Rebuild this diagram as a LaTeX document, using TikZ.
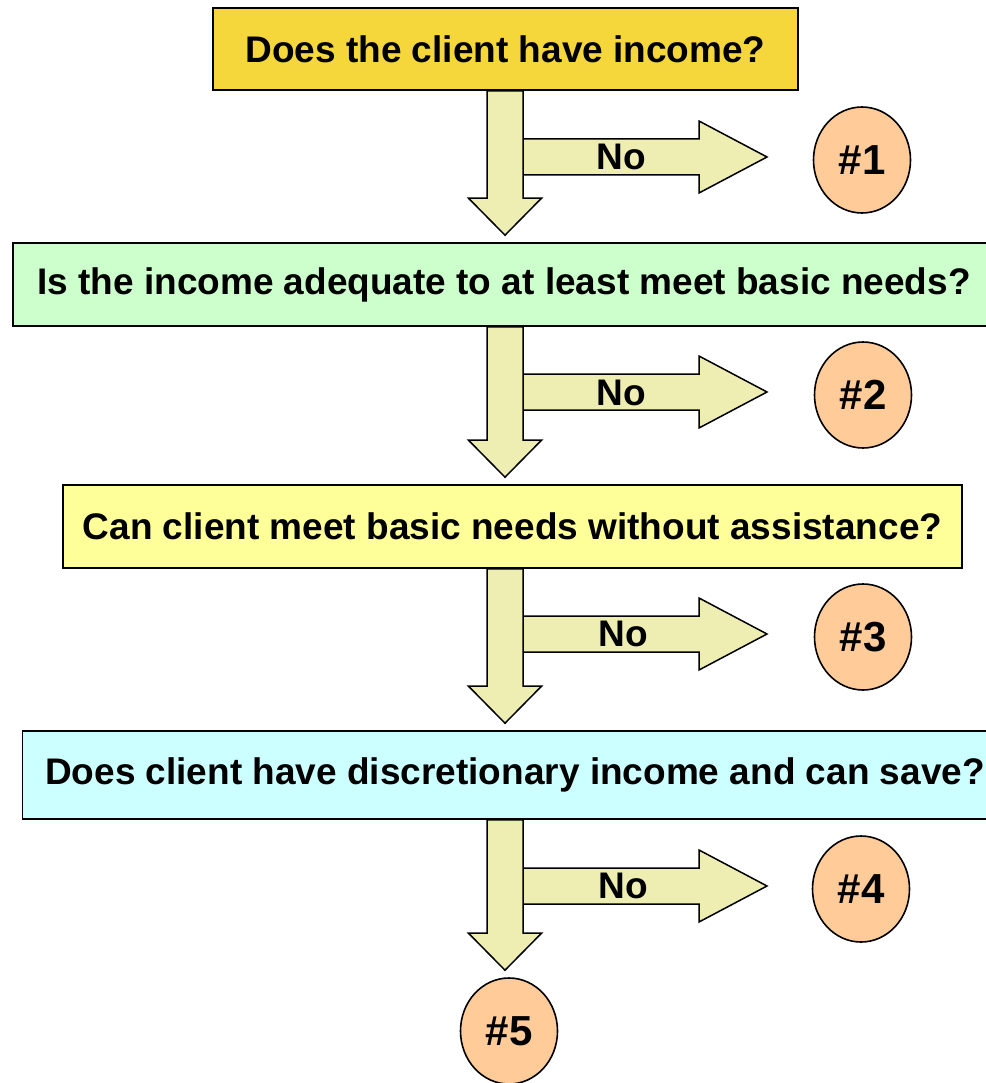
\documentclass[tikz,border=0pt]{standalone}
\usepackage{fontspec}
\setmainfont{Liberation Sans}
\usetikzlibrary{positioning,calc,shapes.geometric}

\definecolor{qgold}{HTML}{F5D73C}
\definecolor{qgreen}{HTML}{CCFFCC}
\definecolor{qyellow}{HTML}{FFFF99}
\definecolor{qcyan}{HTML}{CCFFFF}
\definecolor{arrowfill}{HTML}{EEEDB2}
\definecolor{outfill}{HTML}{FFCC99}

% block arrow down, from the bottom of one node to the top of the next
\newcommand{\blockdown}[2]{%
  \draw[blk] let \p1=(#1.south), \p2=(#2.north) in
    (487pt,\y1) -- (523pt,\y1) -- (523pt,\y2+44pt) -- (541.5pt,\y2+44pt)
    -- (505pt,\y2+7pt) -- (468.5pt,\y2+44pt) -- (487pt,\y2+44pt) -- cycle;}
% block arrow right, from the down shaft towards an outcome
\newcommand{\blockright}[1]{%
  \draw[blk] let \p2=(#1.west) in
    (505pt,\y2+21pt) -- (699pt,\y2+21pt) -- (699pt,\y2+39pt) -- (767pt,\y2+3pt)
    -- (699pt,\y2-33pt) -- (699pt,\y2-15pt) -- (505pt,\y2-15pt) -- cycle;}

\begin{document}
\begin{tikzpicture}[x=1pt,y=-1pt,
    question/.style={draw,line width=1.6pt,inner sep=0pt,minimum height=83pt,
      font=\fontsize{37}{44}\selectfont\bfseries},
    outcome/.style={ellipse,draw,line width=1.6pt,fill=outfill,inner sep=0pt,
      minimum width=97pt,minimum height=106pt,font=\fontsize{42}{48}\selectfont\bfseries},
    blk/.style={draw,line width=1.5pt,fill=arrowfill,line join=miter},
    nolabel/.style={font=\fontsize{37}{44}\selectfont\bfseries,inner sep=0pt},
    ]
    \useasboundingbox (0,0) rectangle (985,1083);

    \node[question,fill=qgold,minimum width=585pt,minimum height=82pt] (q1) at (505.5,49) {Does the client have income?};
    \node[question,fill=qgreen,minimum width=982pt] (q2) at (504,284.5) {Is the income adequate to at least meet basic needs?};
    \node[question,fill=qyellow,minimum width=899pt] (q3) at (512.5,526.5) {Can client meet basic needs without assistance?};
    \node[question,fill=qcyan,minimum width=985pt,minimum height=88pt] (q4) at (515,775) {Does client have discretionary income and can save?};

    \node[outcome] (r1) at (862,160) {\#1};
    \node[outcome] (r2) at (863,395) {\#2};
    \node[outcome] (r3) at (863,637) {\#3};
    \node[outcome] (r4) at (861,889) {\#4};
    \node[outcome] (r5) at (509,1031) {\#5};

    \blockright{r1}
    \blockdown{q1}{q2}
    \blockright{r2}
    \blockdown{q2}{q3}
    \blockright{r3}
    \blockdown{q3}{q4}
    \blockright{r4}
    \blockdown{q4}{r5}

    \node[nolabel] (no1) at (621,157) {No};
    \node[nolabel] (no2) at (621,393) {No};
    \node[nolabel] (no3) at (623,634) {No};
    \node[nolabel] (no4) at (623,886) {No};

\end{tikzpicture}
\end{document}
